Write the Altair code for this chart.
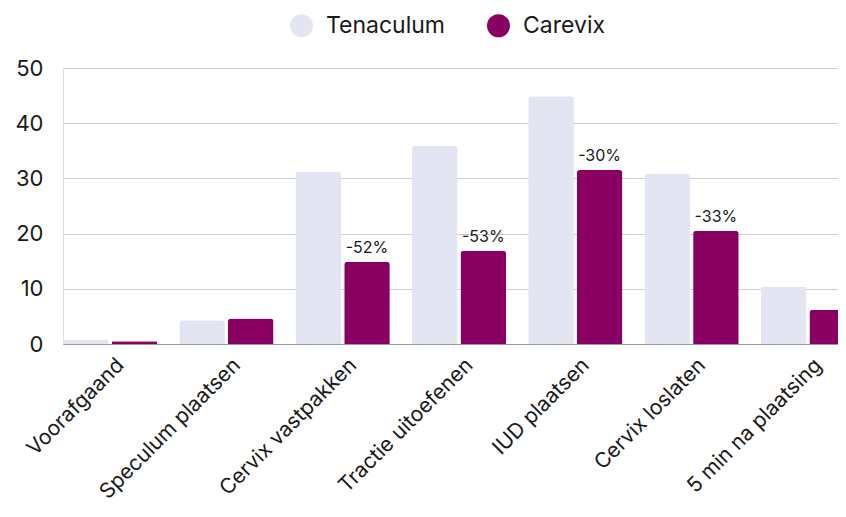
import altair as alt
import pandas as pd

categories = ["Voorafgaand", "Speculum plaatsen", "Cervix vastpakken", "Tractie uitoefenen",
              "IUD plaatsen", "Cervix loslaten", "5 min na plaatsing"]
series = ["Tenaculum", "Carevix"]
tenaculum = [0.8, 4.3, 31.2, 35.9, 44.9, 30.8, 10.4]
carevix = [0.5, 4.6, 14.9, 16.9, 31.5, 20.5, 6.2]
change_labels = ["", "", "-52%", "-53%", "-30%", "-33%", ""]
colors = ["#E3E5F3", "#890062"]

rows = []
for i, c in enumerate(categories):
    rows.append({"cat": c, "series": "Tenaculum", "value": tenaculum[i], "label": ""})
    rows.append({"cat": c, "series": "Carevix", "value": carevix[i], "label": change_labels[i]})
df = pd.DataFrame(rows)

FONT = "Inter"

x = alt.X("cat:N", sort=categories, title=None,
          scale=alt.Scale(domain=categories, paddingInner=0.19, paddingOuter=0),
          axis=alt.Axis(labelAngle=-45, labelAlign="right", labelBaseline="top",
                        labelFontSize=21, labelColor="#1a1a1a", labelFont=FONT,
                        ticks=False, domainColor="#9a9a9a", domainWidth=1, labelPadding=10,
                        labelOffset=3, grid=False, labelLimit=400))
xo = alt.XOffset("series:N", sort=series,
                 scale=alt.Scale(domain=series, paddingInner=0.062, paddingOuter=0))
y = alt.Y("value:Q", title=None,
          scale=alt.Scale(domain=[0, 50], nice=False),
          axis=alt.Axis(values=[0, 10, 20, 30, 40, 50], ticks=False, domain=False,
                        gridColor="#cfcfcf", gridWidth=1, labelFontSize=22,
                        labelColor="#1a1a1a", labelFont=FONT, labelPadding=20))

bars = alt.Chart(df).mark_bar(cornerRadiusTopLeft=3, cornerRadiusTopRight=3).encode(
    x=x, xOffset=xo, y=y,
    color=alt.Color("series:N", sort=series,
                    scale=alt.Scale(domain=series, range=colors),
                    legend=alt.Legend(title=None, orient="none", legendX=227, legendY=-54,
                                      direction="horizontal", symbolType="circle",
                                      symbolSize=529, symbolStrokeWidth=0, symbolOpacity=1,
                                      labelFontSize=23, labelFont=FONT, labelColor="#1a1a1a",
                                      labelOffset=13, columnPadding=41, padding=0)),
)

texts = alt.Chart(df).transform_filter(alt.datum.label != "").mark_text(
    baseline="alphabetic", dy=-9, fontSize=16, font=FONT, color="#1a1a1a"
).encode(x=x, xOffset=xo, y=y, text="label:N")

# plot runs slightly past the right edge of the canvas (clipped), as in the reference
chart = alt.layer(bars, texts).properties(
    width=792, height=276,
    autosize=alt.AutoSizeParams(type="none"),
    padding={"left": 55, "top": 60, "right": -17, "bottom": 160},
).configure_view(stroke=None).configure(font=FONT)

chart.save("out.html", embed_options={"renderer": "svg", "actions": False})
